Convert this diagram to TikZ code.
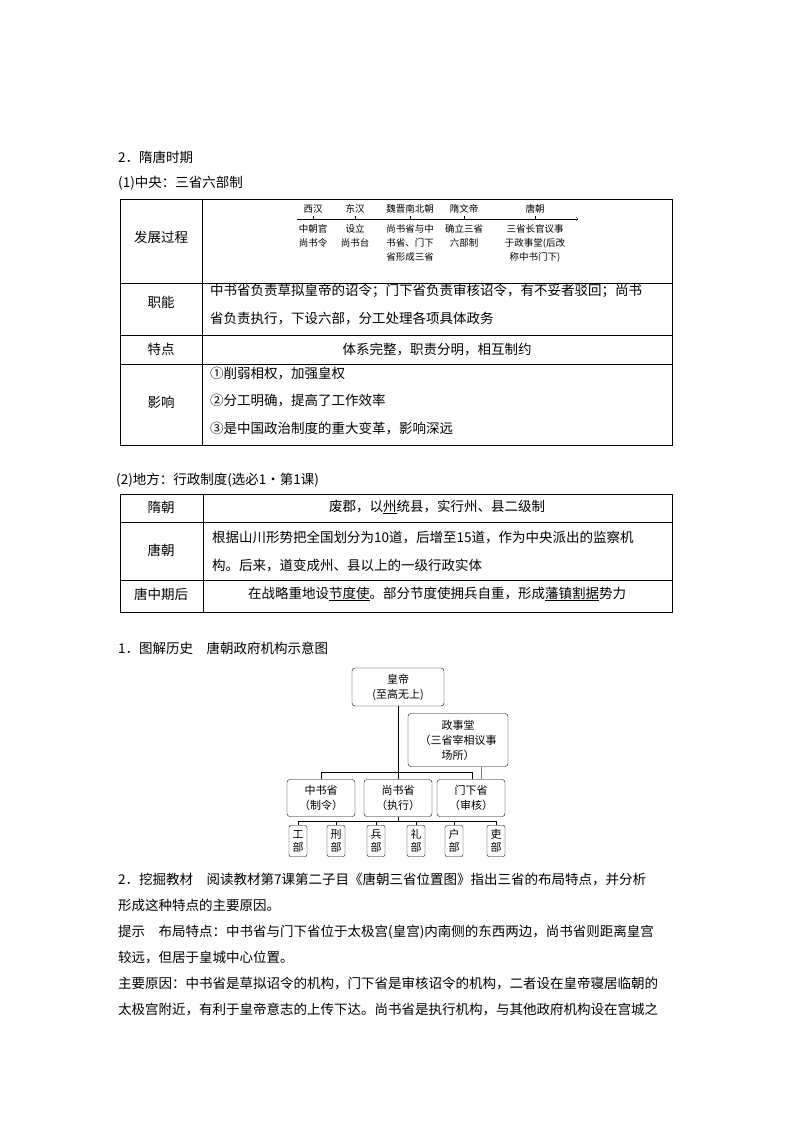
\documentclass[tikz,border=0pt]{standalone}
\usepackage{fontspec}
\setmainfont{Noto Sans CJK SC}
\begin{document}
\begin{tikzpicture}[x=1pt,y=-1pt,
 txt/.style={anchor=west,inner sep=0pt,font=\fontsize{13.5}{15}\selectfont},
 ctr/.style={inner sep=0pt,font=\fontsize{13.5}{15}\selectfont},
 sm/.style={inner sep=0pt,font=\fontsize{9.5}{14}\selectfont,align=center,anchor=north},
 ob/.style={draw,rounded corners=3pt,align=center,inner sep=2pt,font=\fontsize{11}{15}\selectfont},
 bu/.style={draw,rounded corners=2pt,align=center,inner sep=1.5pt,font=\fontsize{11}{13}\selectfont,minimum width=18pt},
 ln/.style={line width=0.6pt}]
\useasboundingbox (0,0) rectangle (794,1123);
\node[txt] (h1) at (118,157) {2．隋唐时期};
\node[txt] (h2) at (118,183) {(1)中央：三省六部制};
% table 1
\draw[ln] (120,199) rectangle (672,445);
\foreach \y in {283,335,364} \draw[ln] (120,\y) -- (672,\y);
\draw[ln] (202,199) -- (202,445);
\node[ctr] (c1) at (161,237) {发展过程};
\node[ctr] (c2) at (161,302) {职能};
\node[ctr] (c3) at (161,349) {特点};
\node[ctr] (c4) at (161,402) {影响};
% timeline
\draw[ln,->,line width=0.4pt] (297,219) -- (578,219);
\foreach \x/\a/\b in {313/西汉/中朝官\\尚书令,355/东汉/设立\\尚书台,410/魏晋南北朝/尚书省与中\\书省、门下\\省形成三省,464/隋文帝/确立三省\\六部制,535/唐朝/三省长官议事\\于政事堂(后改\\称中书门下)}{
 \draw[line width=0.4pt] (\x,216) -- (\x,219);
 \node[inner sep=0pt,font=\fontsize{9.5}{12}\selectfont] at (\x,209) {\a};
 \node[sm] at (\x,224) {\b};
}
\node[txt] (r2a) at (210,291) {中书省负责草拟皇帝的诏令；门下省负责审核诏令，有不妥者驳回；尚书};
\node[txt] (r2b) at (210,318) {省负责执行，下设六部，分工处理各项具体政务};
\node[ctr] (r3) at (437,349) {体系完整，职责分明，相互制约};
\node[txt] (r4a) at (210,374) {①削弱相权，加强皇权};
\node[txt] (r4b) at (210,401) {②分工明确，提高了工作效率};
\node[txt] (r4c) at (210,428) {③是中国政治制度的重大变革，影响深远};
% table 2
\node[txt] (h3) at (116,480) {(2)地方：行政制度(选必1·第1课)};
\draw[ln] (120,494) rectangle (672,612);
\draw[ln] (120,522) -- (672,522);
\draw[ln] (120,580) -- (672,580);
\draw[ln] (203,494) -- (203,612);
\node[ctr] (d1) at (161,507) {隋朝};
\node[ctr] (d2) at (161,550) {唐朝};
\node[ctr] (d3) at (161,594) {唐中期后};
\node[ctr] (e1) at (437,507) {废郡，以\underline{州}统县，实行州、县二级制};
\node[txt] (e2a) at (212,537) {根据山川形势把全国划分为10道，后增至15道，作为中央派出的监察机};
\node[txt] (e2b) at (212,565) {构。后来，道变成州、县以上的一级行政实体};
\node[ctr] (e3) at (437,594) {在战略重地设\underline{节度使}。部分节度使拥兵自重，形成\underline{藩镇割据}势力};
% org chart
\node[txt] (h4) at (118,648) {1．图解历史\quad 唐朝政府机构示意图};
\node[ob,minimum width=92pt,minimum height=38pt] (hd) at (398,687) {皇帝\\(至高无上)};
\node[ob,minimum width=100pt,minimum height=53pt] (zs) at (458,740) {政事堂\\（三省宰相议事\\场所）};
\node[ob,minimum width=68pt,minimum height=37pt] (zh) at (321,798) {中书省\\（制令）};
\node[ob,minimum width=68pt,minimum height=37pt] (sh) at (398,798) {尚书省\\（执行）};
\node[ob,minimum width=68pt,minimum height=37pt] (mx) at (471,798) {门下省\\（审核）};
\draw[ln] (hd.south) -- (sh.north);
\coordinate (bl) at (321,772); \coordinate (br) at (472,772);
\draw[ln] (zh.north) -- (bl) -- (br) -- (mx.north -| br);
\draw[ln,gray] (zs.south -| 481,0) -- (mx.north -| 481,0);
\foreach \x/\n/\t in {298/b1/工,336/b2/刑,376/b3/兵,416/b4/礼,454/b5/户,496/b6/吏}{
 \node[bu,minimum height=31pt] (\n) at (\x,841) {\t\\部};
}
\coordinate (ml) at (298,821); \coordinate (mr) at (496,821);
\draw[ln] (ml) -- (mr);
\draw[ln] (sh.south) -- (sh.south |- ml);
\foreach \n in {b1,b2,b3,b4,b5,b6} \draw[ln] (\n.north) -- (\n.north |- ml);
% paragraphs
\node[txt] (p1) at (118,879) {2．挖掘教材\quad 阅读教材第7课第二子目《唐朝三省位置图》指出三省的布局特点，并分析};
\node[txt] (p2) at (118,905) {形成这种特点的主要原因。};
\node[txt] (p3) at (118,932) {提示\quad 布局特点：中书省与门下省位于太极宫(皇宫)内南侧的东西两边，尚书省则距离皇宫};
\node[txt] (p4) at (118,957) {较远，但居于皇城中心位置。};
\node[txt] (p5) at (118,983) {主要原因：中书省是草拟诏令的机构，门下省是审核诏令的机构，二者设在皇帝寝居临朝的};
\node[txt] (p6) at (118,1009) {太极宫附近，有利于皇帝意志的上传下达。尚书省是执行机构，与其他政府机构设在宫城之};
\end{tikzpicture}
\end{document}
